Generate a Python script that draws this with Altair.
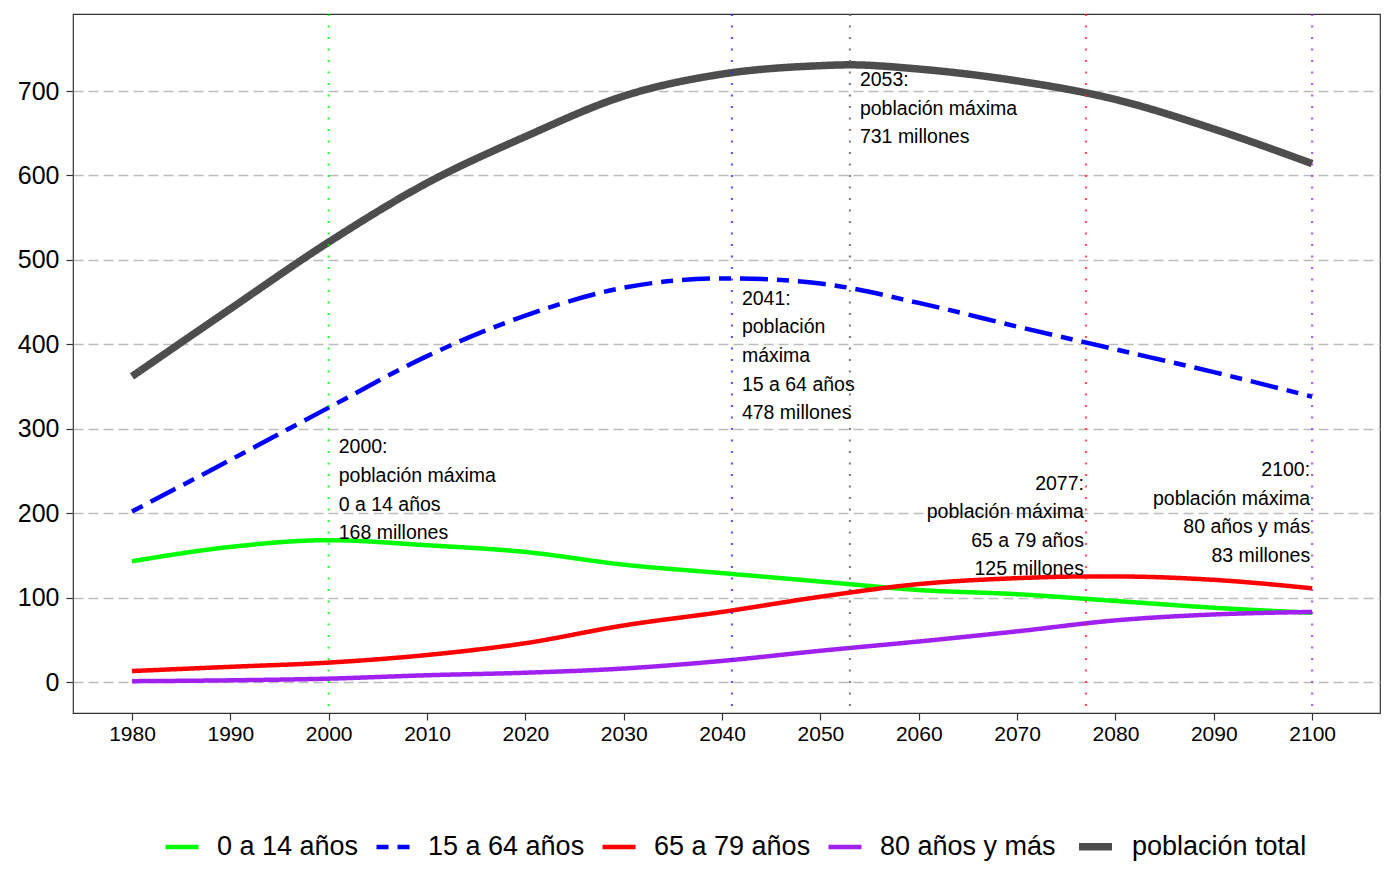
import altair as alt
import pandas as pd

# ---------------- data ----------------
years = [1980, 1990, 2000, 2010, 2020, 2030, 2040, 2050, 2060, 2070, 2080, 2090, 2100]
edad_0_14 = [143, 160, 168, 162, 154, 139, 129, 119, 109, 104, 96, 88, 82]
edad_15_64 = [202, 263, 325, 386, 434, 467, 478, 472, 449, 421, 394, 367, 338]
edad_65_79 = [13, 18, 23, 32, 46, 67, 83, 101, 116, 123, 125, 121, 111]
edad_80_mas = [1, 2, 4, 8, 11, 16, 25, 37, 48, 60, 73, 80, 83]
poblacion_total = [362, 442, 521, 591, 646, 694, 720, 730, 726, 712, 690, 655, 614]

series_names = ["0 a 14 años", "15 a 64 años", "65 a 79 años", "80 años y más", "población total"]
series_values = [edad_0_14, edad_15_64, edad_65_79, edad_80_mas, poblacion_total]

# peak (maximum) year and value of each series
peak_years = [2000, 2041, 2077, 2100, 2053]
peak_values = [168, 478, 125, 83, 731]

# annotations
ann_years = [2000, 2041, 2053, 2077, 2100]
ann_top_values = [278, 454, 713, 235, 251]
ann_align = ["left", "left", "left", "right", "right"]
ann_lines = [
    ["2000:", "población máxima", "0 a 14 años", "168 millones"],
    ["2041:", "población", "máxima", "15 a 64 años", "478 millones"],
    ["2053:", "población máxima", "731 millones"],
    ["2077:", "población máxima", "65 a 79 años", "125 millones"],
    ["2100:", "población máxima", "80 años y más", "83 millones"],
]

x_ticks = list(range(1980, 2101, 10))
y_ticks = list(range(0, 701, 100))

# ---------------- styles ----------------
series_colors = ["#00FF00", "#0000FF", "#FF0000", "#A020F0", "#4D4D4D"]
series_dashes = [[1, 0], [12, 9, 28, 9], [1, 0], [1, 0], [1, 0]]
series_widths = [4.5, 4.5, 4.5, 4.5, 7.5]
rule_colors = ["#00EE00", "#2222FF", "#555555", "#FF2222", "#A020F0"]
FONT = "Liberation Sans"
LINE_STEP = 33.9  # vertical distance between annotation lines (value units)

# ---------------- tables ----------------
rows = []
for name, vals, py, pv in zip(series_names, series_values, peak_years, peak_values):
    for yr, v in zip(years, vals):
        rows.append({"serie": name, "year": yr, "value": v})
    if py not in years:
        rows.append({"serie": name, "year": py, "value": pv})
df = pd.DataFrame(rows)

ann_rows = []
for yr, top, al, lines in zip(ann_years, ann_top_values, ann_align, ann_lines):
    for i, t in enumerate(lines):
        ann_rows.append({"year": yr, "value": top - i * LINE_STEP, "text": t, "align": al})
ann_df = pd.DataFrame(ann_rows)

x_enc = alt.X("year:Q", title=None,
              scale=alt.Scale(domain=[1974, 2106.9], nice=False, zero=False),
              axis=alt.Axis(values=x_ticks, format="d"))
y_enc = alt.Y("value:Q", title=None,
              scale=alt.Scale(domain=[-36.7, 791.2], nice=False, zero=False),
              axis=alt.Axis(values=y_ticks, format="d"))

leg = dict(title=None, orient="none", legendX=90, legendY=812, direction="horizontal",
           symbolType="stroke", symbolSize=1089, labelFontSize=27, labelFont=FONT,
           labelOffset=16, columnPadding=8, labelColor="black", labelLimit=400, padding=0)

lines = alt.Chart(df).mark_line(interpolate="monotone", strokeCap="butt").encode(
    x=x_enc,
    y=y_enc,
    color=alt.Color("serie:N", scale=alt.Scale(domain=series_names, range=series_colors),
                    legend=alt.Legend(**leg)),
    strokeDash=alt.StrokeDash("serie:N", scale=alt.Scale(domain=series_names, range=series_dashes),
                              legend=alt.Legend(**leg)),
    strokeWidth=alt.StrokeWidth("serie:N",
                                scale=alt.Scale(type="ordinal", domain=series_names, range=series_widths),
                                legend=alt.Legend(**leg)),
    order=alt.Order("year:Q"),
)

rules = []
for yr, c in zip(ann_years, rule_colors):
    rules.append(
        alt.Chart(pd.DataFrame({"year": [yr]})).mark_rule(
            color=c, strokeDash=[2, 9.5], strokeWidth=2.2, opacity=0.75
        ).encode(x=x_enc)
    )

text_left = alt.Chart(ann_df[ann_df["align"] == "left"]).mark_text(
    align="left", baseline="middle", dx=10, fontSize=19.5, font=FONT, color="black"
).encode(x=x_enc, y=y_enc, text="text:N")

text_right = alt.Chart(ann_df[ann_df["align"] == "right"]).mark_text(
    align="right", baseline="middle", dx=-2, fontSize=19.5, font=FONT, color="black"
).encode(x=x_enc, y=y_enc, text="text:N")

chart = alt.layer(lines, *rules, text_left, text_right).properties(
    width=1307, height=699,
    padding={"left": 65, "top": 6, "right": 6, "bottom": 170},
    autosize=alt.AutoSizeParams(type="none"),
    background="white",
).configure_view(
    stroke="#333333", strokeWidth=1.2
).configure_axis(
    domain=False, labelFont=FONT, labelColor="black", tickColor="#333333",
    tickSize=7, tickWidth=1.2,
).configure_axisX(
    grid=False, labelFontSize=21, labelPadding=3,
).configure_axisY(
    grid=True, gridDash=[10, 5], gridColor="#BDBDBD", gridWidth=1.4,
    labelFontSize=25, labelPadding=7,
)

chart.save("out.html", embed_options={"renderer": "svg", "actions": False})
